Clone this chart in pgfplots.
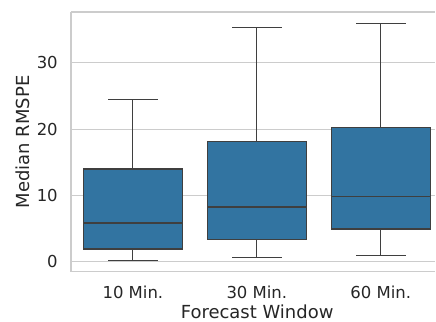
\documentclass[border=0pt]{standalone}
\usepackage{pgfplots}
\pgfplotsset{compat=1.18}
\usepgfplotslibrary{statistics}
\usepackage{fontspec}
\setmainfont{DejaVu Sans}
\definecolor{boxblue}{HTML}{3274A1}
\definecolor{edgegray}{HTML}{3F3F3F}
\definecolor{gridgray}{HTML}{CCCCCC}
\begin{document}
\begin{tikzpicture}
\begin{axis}[
  scale only axis,
  width=365pt, height=260pt,
  xmin=-0.5, xmax=2.44,
  ymin=-1.5, ymax=37.7,
  xtick={0,1,2},
  xticklabels={10 Min., 30 Min., 60 Min.},
  ytick={0,10,20,30},
  major tick length=0pt,
  /pgf/number format/assume math mode=true,
  ymajorgrids,
  grid style={draw=gridgray, line width=1pt},
  axis x line=box,
  axis y line=left,
  axis line style={-, draw=gridgray, line width=1.25pt},
  tick label style={font=\fontsize{16.5}{19}\selectfont, text=black!85, inner sep=0pt},
  yticklabel style={anchor=east, xshift=-13pt},
  xticklabel style={anchor=north, yshift=-14pt},
  xlabel={Forecast Window},
  ylabel={Median RMSPE},
  label style={font=\fontsize{18}{21}\selectfont, text=black!85, inner sep=0pt},
  xlabel style={at={(axis description cs:0.511,0)}, anchor=north, yshift=-33pt},
  ylabel style={at={(axis description cs:-0.1123,0.5)}, anchor=south},
  boxplot/draw direction=y,
  boxplot/box extend=0.8,
  boxplot/whisker extend=0.4,
  boxplot/every whisker/.style={draw=edgegray, line width=1pt},
  boxplot/every median/.style={draw=edgegray, line width=1.1pt},
  boxplot/every box/.style={draw=edgegray, fill=boxblue, line width=1.1pt},
]
\addplot+[mark=none, solid, draw=edgegray, fill=boxblue,
  boxplot prepared={lower whisker=0.25, lower quartile=1.91, median=5.84,
    upper quartile=14.0, upper whisker=24.56, draw position=0}] coordinates {};
\addplot+[mark=none, solid, draw=edgegray, fill=boxblue,
  boxplot prepared={lower whisker=0.65, lower quartile=3.32, median=8.25,
    upper quartile=18.2, upper whisker=35.4, draw position=1}] coordinates {};
\addplot+[mark=none, solid, draw=edgegray, fill=boxblue,
  boxplot prepared={lower whisker=1.0, lower quartile=4.93, median=9.8,
    upper quartile=20.3, upper whisker=36.0, draw position=2}] coordinates {};
\end{axis}
\path ([xshift=-71pt,yshift=-50pt]current axis.south west) rectangle ([yshift=12pt]current axis.north east);
\end{tikzpicture}
\end{document}
